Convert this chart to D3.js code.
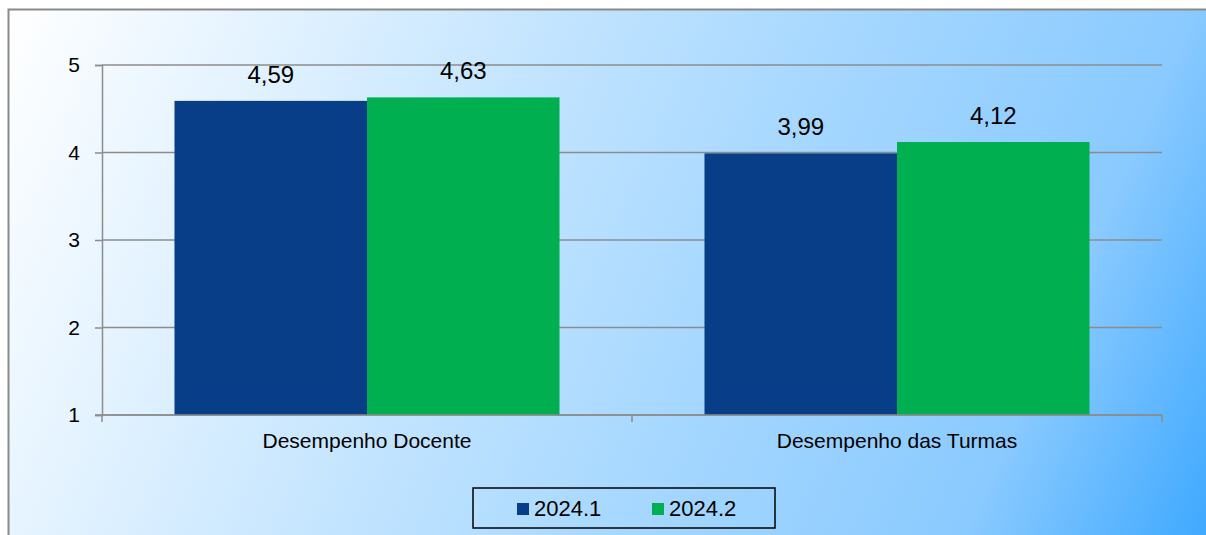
<!DOCTYPE html>
<html>
<head>
<meta charset="utf-8">
<script src="https://cdn.jsdelivr.net/npm/d3@7"></script>
<style>
  body { margin: 0; background: #fff; }
  svg { display: block; font-family: "Liberation Sans", Arial, sans-serif; }
</style>
</head>
<body>
<script>
// chart data
var categories = ["Desempenho Docente", "Desempenho das Turmas"];
var seriesNames = ["2024.1", "2024.2"];
var values2024_1 = [4.59, 3.99];
var values2024_2 = [4.63, 4.12];
var yTicks = [1, 2, 3, 4, 5];
var seriesColors = ["#073e87", "#00af50"];

var width = 1206, height = 535;
var margin = {top: 65, right: 44, bottom: 120, left: 102};

var svg = d3.select("body").append("svg")
    .attr("width", width)
    .attr("height", height);

// background gradient of the chart frame
var defs = svg.append("defs");
var grad = defs.append("linearGradient")
    .attr("id", "bg")
    .attr("gradientUnits", "userSpaceOnUse")
    .attr("x1", 8).attr("y1", 9)
    .attr("x2", 1206).attr("y2", 535);
[[0, "#ffffff"], [0.18, "#e4f3ff"], [0.42, "#bee2ff"], [0.6, "#a5d7ff"], [0.83, "#8acaff"], [1, "#3fa9ff"]]
  .forEach(function(s) {
    grad.append("stop").attr("offset", s[0]).attr("stop-color", s[1]);
  });

svg.append("rect")
    .attr("x", 8.5).attr("y", 9.5)
    .attr("width", 1230).attr("height", 560)
    .attr("fill", "url(#bg)")
    .attr("stroke", "#8a8a8a")
    .attr("stroke-width", 2);

// scales
var x0 = d3.scaleBand()
    .domain(categories)
    .range([margin.left, width - margin.right])
    .paddingInner(0).paddingOuter(0);
var x1 = d3.scaleBand()
    .domain(seriesNames)
    .range([0, x0.bandwidth()])
    .paddingInner(0)
    .paddingOuter(0.3766);
var y = d3.scaleLinear()
    .domain([1, 5])
    .range([height - margin.bottom, margin.top]);

var gridColor = "#8c8c8c";

// y axis
var yAxis = svg.append("g")
    .attr("transform", "translate(" + margin.left + ",0)")
    .call(d3.axisLeft(y).tickValues(yTicks).tickFormat(d3.format("d"))
      .tickSize(7).tickPadding(15));
yAxis.select(".domain").attr("stroke", gridColor).attr("stroke-width", 1.5);
yAxis.selectAll(".tick line").attr("stroke", gridColor).attr("stroke-width", 1.5);
yAxis.selectAll(".tick text")
    .style("font-size", "21px")
    .style("font-family", "'Liberation Sans', Arial, sans-serif")
    .attr("fill", "#000");

// horizontal gridlines
svg.append("g").selectAll("line")
    .data(yTicks)
  .enter().append("line")
    .attr("x1", margin.left)
    .attr("x2", width - margin.right)
    .attr("y1", function(d) { return y(d); })
    .attr("y2", function(d) { return y(d); })
    .attr("stroke", gridColor)
    .attr("stroke-width", 1.5);

// bars
var rows = categories.map(function(c, i) {
  return {cat: c, vals: [values2024_1[i], values2024_2[i]]};
});

var groups = svg.append("g").selectAll("g")
    .data(rows)
  .enter().append("g")
    .attr("transform", function(d) { return "translate(" + x0(d.cat) + ",0)"; });

var bars = groups.selectAll("g")
    .data(function(d) {
      return d.vals.map(function(v, j) { return {name: seriesNames[j], value: v, j: j}; });
    })
  .enter().append("g");

bars.append("rect")
    .attr("x", function(d) { return x1(d.name); })
    .attr("width", x1.bandwidth())
    .attr("y", function(d) { return y(d.value); })
    .attr("height", function(d) { return y(1) - y(d.value); })
    .attr("fill", function(d) { return seriesColors[d.j]; });

// value labels, comma decimals
bars.append("text")
    .attr("x", function(d) { return x1(d.name) + x1.bandwidth() / 2; })
    .attr("y", function(d) { return y(d.value) - 18; })
    .attr("text-anchor", "middle")
    .style("font-size", "24px")
    .attr("fill", "#000")
    .text(function(d) { return d3.format(".2f")(d.value).replace(".", ","); });

// x axis with category ticks at band edges
var xBase = y(1);
svg.append("line")
    .attr("x1", margin.left - 7).attr("x2", width - margin.right)
    .attr("y1", xBase).attr("y2", xBase)
    .attr("stroke", gridColor).attr("stroke-width", 1.5);

var edges = categories.map(function(c) { return x0(c); });
edges.push(x0(categories[categories.length - 1]) + x0.bandwidth());
svg.append("g").selectAll("line")
    .data(edges)
  .enter().append("line")
    .attr("x1", function(d) { return d; })
    .attr("x2", function(d) { return d; })
    .attr("y1", xBase).attr("y2", xBase + 7)
    .attr("stroke", gridColor).attr("stroke-width", 1.5);

svg.append("g").selectAll("text")
    .data(categories)
  .enter().append("text")
    .attr("x", function(d) { return x0(d) + x0.bandwidth() / 2; })
    .attr("y", xBase + 33)
    .attr("text-anchor", "middle")
    .style("font-size", "21px")
    .attr("fill", "#000")
    .text(function(d) { return d; });

// legend
var legend = svg.append("g").attr("transform", "translate(473,488)");
legend.append("rect")
    .attr("width", 302).attr("height", 40)
    .attr("fill", "none")
    .attr("stroke", "#000")
    .attr("stroke-width", 1.5);

var legendX = [44, 179];
var items = legend.selectAll("g.item")
    .data(seriesNames)
  .enter().append("g")
    .attr("class", "item")
    .attr("transform", function(d, i) { return "translate(" + legendX[i] + ",0)"; });
items.append("rect")
    .attr("y", 15).attr("width", 12).attr("height", 12)
    .attr("fill", function(d, i) { return seriesColors[i]; });
items.append("text")
    .attr("x", 17).attr("y", 28)
    .style("font-size", "22px")
    .attr("fill", "#000")
    .text(function(d) { return d; });
</script>
</body>
</html>
